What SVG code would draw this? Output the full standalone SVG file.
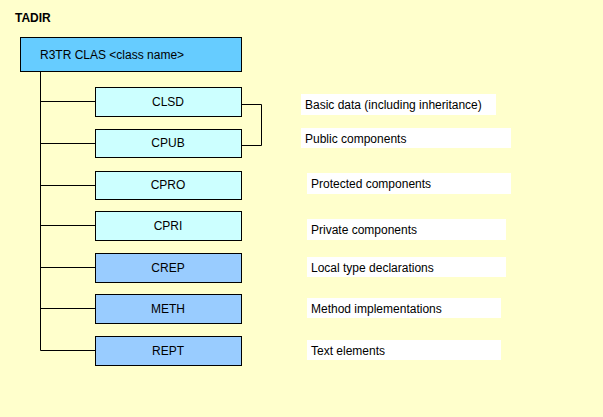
<svg xmlns="http://www.w3.org/2000/svg" width="603" height="417" viewBox="0 0 603 417">
<style>
text{font-family:"Liberation Sans",Arial,sans-serif;font-size:12px;fill:#000}
.n rect{stroke:#000;stroke-width:1}
.l{fill:#CCFFFF}.d{fill:#99CCFF}
.n text{text-anchor:middle}
.lb rect{fill:#fff}
#connectors path{fill:none;stroke:#000;stroke-width:1}
</style>
<rect width="603" height="417" fill="#FFFFCC"/>
<text x="15" y="22" style="font-weight:bold">TADIR</text>
<g id="connectors">
<path d="M40.5 71V350.5M40.5 101.5H95M40.5 143.5H95M40.5 185.5H95M40.5 225.5H95M40.5 267.5H95M40.5 308.5H95M40.5 350.5H95"/>
<path d="M241 104.5H261.5V145.5H241"/>
</g>
<g id="root" class="n"><rect x="20.5" y="37.5" width="221" height="34" fill="#66CCFF"/><text x="40" y="59" style="text-anchor:start">R3TR CLAS &lt;class name&gt;</text></g>
<g id="clsd" class="n"><rect class="l" x="95.5" y="87.5" width="146" height="29"/><text x="168" y="106">CLSD</text></g>
<g id="cpub" class="n"><rect class="l" x="95.5" y="129.5" width="146" height="28"/><text x="168" y="147">CPUB</text></g>
<g id="cpro" class="n"><rect class="l" x="95.5" y="171.5" width="146" height="28"/><text x="168" y="189">CPRO</text></g>
<g id="cpri" class="n"><rect class="l" x="95.5" y="211.5" width="146" height="29"/><text x="168" y="230">CPRI</text></g>
<g id="crep" class="n"><rect class="d" x="95.5" y="253.5" width="146" height="29"/><text x="168" y="272">CREP</text></g>
<g id="meth" class="n"><rect class="d" x="95.5" y="294.5" width="146" height="29"/><text x="168" y="313">METH</text></g>
<g id="rept" class="n"><rect class="d" x="95.5" y="336.5" width="146" height="29"/><text x="168" y="355">REPT</text></g>
<g class="lb">
<rect x="301" y="94" width="195" height="21"/><text x="305" y="109">Basic data (including inheritance)</text>
<rect x="301" y="128" width="210" height="20"/><text x="305" y="143">Public components</text>
<rect x="307" y="173" width="204" height="21"/><text x="311" y="188">Protected components</text>
<rect x="307" y="219" width="199" height="21"/><text x="311" y="234">Private components</text>
<rect x="307" y="257" width="199" height="20"/><text x="311" y="272">Local type declarations</text>
<rect x="307" y="298" width="194" height="20"/><text x="311" y="313">Method implementations</text>
<rect x="307" y="340" width="194" height="20"/><text x="311" y="355">Text elements</text>
</g>
</svg>
